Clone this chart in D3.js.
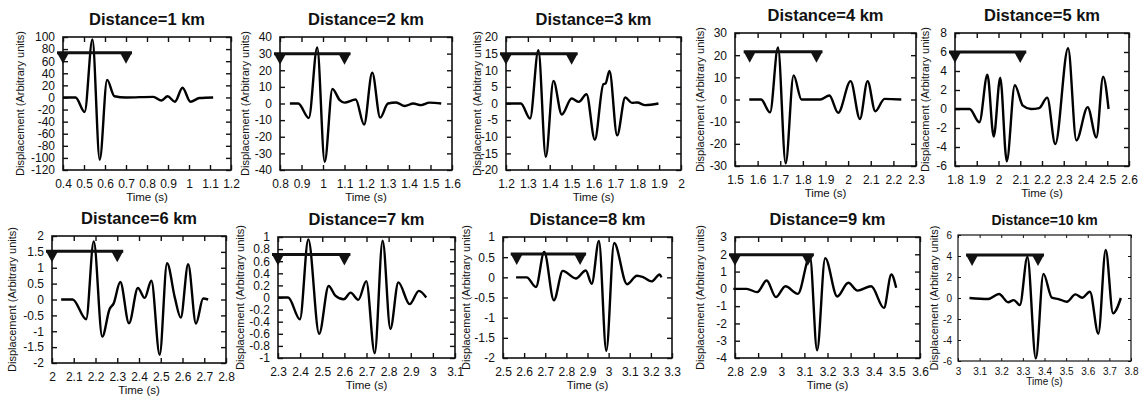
<!DOCTYPE html>
<meta charset="utf-8">
<script src="https://d3js.org/d3.v7.min.js"></script>
<style>
body { margin: 0; background: #fff; }
svg text { font-family: "Liberation Sans", Arial, sans-serif; fill: #111; }
</style>
<body>
<div id="canvas"></div>
<script>

// titulos e dominios de cada painel
var titles = ["Distance=1 km", "Distance=2 km", "Distance=3 km", "Distance=4 km", "Distance=5 km",
              "Distance=6 km", "Distance=7 km", "Distance=8 km", "Distance=9 km", "Distance=10 km"];
var xDomains = [[0.4, 1.2], [0.8, 1.6], [1.2, 2], [1.5, 2.3], [1.8, 2.6],
                [2, 2.8], [2.3, 3.1], [2.5, 3.3], [2.8, 3.6], [3, 3.8]];
var yDomains = [[-120, 100], [-40, 40], [-20, 20], [-30, 30], [-6, 8],
                [-2, 2], [-1, 1], [-2, 1], [-4, 3], [-6, 6]];

// ticks
var xTicks = [
    [0.4, 0.5, 0.6, 0.7, 0.8, 0.9, 1, 1.1, 1.2],
    [0.8, 0.9, 1, 1.1, 1.2, 1.3, 1.4, 1.5, 1.6],
    [1.2, 1.3, 1.4, 1.5, 1.6, 1.7, 1.8, 1.9, 2],
    [1.5, 1.6, 1.7, 1.8, 1.9, 2, 2.1, 2.2, 2.3],
    [1.8, 1.9, 2, 2.1, 2.2, 2.3, 2.4, 2.5, 2.6],
    [2, 2.1, 2.2, 2.3, 2.4, 2.5, 2.6, 2.7, 2.8],
    [2.3, 2.4, 2.5, 2.6, 2.7, 2.8, 2.9, 3, 3.1],
    [2.5, 2.6, 2.7, 2.8, 2.9, 3, 3.1, 3.2, 3.3],
    [2.8, 2.9, 3, 3.1, 3.2, 3.3, 3.4, 3.5, 3.6],
    [3, 3.1, 3.2, 3.3, 3.4, 3.5, 3.6, 3.7, 3.8]
];
var yTicks = [
    [-120, -100, -80, -60, -40, -20, 0, 20, 40, 60, 80, 100],
    [-40, -30, -20, -10, 0, 10, 20, 30, 40],
    [-20, -15, -10, -5, 0, 5, 10, 15, 20],
    [-30, -20, -10, 0, 10, 20, 30],
    [-6, -4, -2, 0, 2, 4, 6, 8],
    [-2, -1.5, -1, -0.5, 0, 0.5, 1, 1.5, 2],
    [-1, -0.8, -0.6, -0.4, -0.2, 0, 0.2, 0.4, 0.6, 0.8, 1],
    [-2, -1.5, -1, -0.5, 0, 0.5, 1],
    [-4, -3, -2, -1, 0, 1, 2, 3],
    [-6, -4, -2, 0, 2, 4, 6]
];

// sismogramas (tempo, deslocamento)
var t1 = [0.4, 0.46, 0.503, 0.54, 0.575, 0.61, 0.645, 0.7, 0.83, 0.869, 0.898, 0.933, 0.969, 1.007, 1.05, 1.115];
var v1 = [0, 0, -24, 96, -103, 29, 2, 0, 1, -5, 2, -7, 16, -7, -1, 0];
var t2 = [0.846, 0.885, 0.934, 0.973, 1.008, 1.044, 1.078, 1.1, 1.152, 1.191, 1.229, 1.266, 1.302, 1.34, 1.38, 1.42, 1.456, 1.495, 1.55];
var v2 = [0, 0, -8.7, 33.7, -35, 8.7, 2, 0.5, 2.4, -12.7, 18.6, -8.5, 0, 0.6, -1.5, 0, -1, 0.5, 0];
var t3 = [1.2, 1.268, 1.31, 1.348, 1.382, 1.417, 1.455, 1.5, 1.533, 1.568, 1.606, 1.645, 1.655, 1.673, 1.708, 1.745, 1.776, 1.8, 1.836, 1.897];
var v3 = [0, 0, -4.5, 16, -16, 6.8, -3.3, 1.5, 0.5, 2.8, -10.9, 5.8, 6, 9.8, -9.6, 1.8, 0.2, 0.3, -0.5, 0];
var t4 = [1.563, 1.615, 1.655, 1.69, 1.724, 1.759, 1.794, 1.877, 1.917, 1.956, 2.011, 2.052, 2.086, 2.12, 2.161, 2.235];
var v4 = [0, 0, -5.8, 23.5, -28.8, 10.9, 0, 0, 1.8, -6, 8.3, -8.8, 8.3, -5.3, 0.3, 0];
var t5 = [1.8, 1.867, 1.912, 1.949, 1.978, 2.008, 2.038, 2.075, 2.112, 2.149, 2.187, 2.224, 2.261, 2.32, 2.358, 2.41, 2.45, 2.481, 2.506];
var v5 = [0, 0, -1.4, 3.6, -2.9, 3.3, -5.5, 2.5, 0.35, 0, 0.1, 1.2, -3.7, 6.4, -3.3, 0.2, -3.0, 3.4, 0];
var t6 = [2.042, 2.095, 2.157, 2.192, 2.231, 2.265, 2.283, 2.314, 2.354, 2.395, 2.426, 2.457, 2.495, 2.529, 2.565, 2.592, 2.626, 2.662, 2.695, 2.718];
var v6 = [0, 0, -0.62, 1.83, -1.17, -0.3, -0.13, 0.55, -0.75, 0.36, 0.05, 0.59, -1.74, 1.14, 0.05, -0.57, 1.11, -0.76, 0.03, 0];
var t7 = [2.3, 2.346, 2.399, 2.437, 2.486, 2.529, 2.559, 2.597, 2.628, 2.663, 2.699, 2.737, 2.773, 2.808, 2.844, 2.895, 2.937, 2.97];
var v7 = [0, 0, -0.36, 0.96, -0.6, 0.19, 0.03, -0.03, 0.08, -0.04, 0.27, -0.92, 0.94, -0.52, 0.25, -0.11, 0.11, 0];
var t8 = [2.562, 2.612, 2.656, 2.695, 2.741, 2.783, 2.845, 2.892, 2.92, 2.954, 2.989, 3.026, 3.087, 3.134, 3.165, 3.203, 3.242, 3.25];
var v8 = [0, 0, -0.24, 0.63, -0.57, 0.16, -0.03, 0.17, -0.16, 0.9, -1.82, 0.85, -0.17, 0.04, 0, -0.1, 0.07, 0];
var t9 = [2.793, 2.85, 2.896, 2.937, 2.977, 3.018, 3.072, 3.124, 3.155, 3.19, 3.242, 3.29, 3.33, 3.389, 3.444, 3.476, 3.497];
var v9 = [0, 0, -0.19, 0.48, -0.48, 0.15, -0.29, 1.88, -3.55, 1.78, -0.44, 0.35, -0.1, 0.15, -1.1, 0.83, 0.06];
var t10 = [3.053, 3.139, 3.19, 3.232, 3.258, 3.286, 3.321, 3.36, 3.395, 3.434, 3.465, 3.504, 3.543, 3.574, 3.61, 3.649, 3.683, 3.717, 3.753];
var v10 = [0, -0.1, 0.38, -0.4, -0.2, -0.67, 3.9, -5.75, 2.3, 0.03, -0.1, -0.35, 0.35, 0.03, 0.6, -3.4, 4.57, -1.46, 0];

var times = [t1, t2, t3, t4, t5, t6, t7, t8, t9, t10];
var values = [v1, v2, v3, v4, v5, v6, v7, v8, v9, v10];

// janela marcada (triangulos) e nivel da barra
var markStart = [0.4, 0.8, 1.2, 1.565, 1.8, 2.0, 2.3, 2.565, 2.8, 3.065];
var markEnd = [0.7, 1.1, 1.5, 1.86, 2.1, 2.3, 2.6, 2.865, 3.115, 3.37];
var markLevel = [74, 30, 15, 21.5, 6, 1.52, 0.71, 0.58, 1.98, 4.1];

// posicao de cada painel na pagina (pixels)
var boxes = [
    {l: 63, t: 37, r: 231, b: 170, yl: 20},
    {l: 280, t: 37, r: 452, b: 170, yl: 245},
    {l: 506, t: 37, r: 681, b: 170, yl: 477},
    {l: 735, t: 33, r: 916, b: 166, yl: 700},
    {l: 955, t: 33, r: 1129, b: 166, yl: 925},
    {l: 52, t: 236, r: 226, b: 363, yl: 12},
    {l: 278, t: 237, r: 455, b: 358, yl: 240},
    {l: 503, t: 237, r: 672, b: 358, yl: 466},
    {l: 735, t: 237, r: 920, b: 358, yl: 700},
    {l: 958, t: 235, r: 1131, b: 361, yl: 934}
];

var W = 1141, H = 400;
var svg = d3.select("#canvas").append("svg")
    .attr("width", W).attr("height", H);

var fmt = function(d) { return String(+d.toFixed(2)); };

boxes.forEach(function(bx, i) {
    var small = (i === 9); // ultimo painel tem estilo diferente (matlab)
    var x = d3.scaleLinear().domain(xDomains[i]).range([bx.l, bx.r]);
    var y = d3.scaleLinear().domain(yDomains[i]).range([bx.b, bx.t]);
    var g = svg.append("g");
    var tick = small ? 3 : 5;
    var tickFont = small ? 10 : 12;

    // titulo
    g.append("text")
        .attr("x", (bx.l + bx.r) / 2)
        .attr("y", small ? bx.t - 10 : bx.t - 12)
        .attr("text-anchor", "middle")
        .style("font-weight", "bold")
        .style("font-size", small ? "14px" : "16.5px")
        .text(titles[i]);

    // ticks para dentro nos quatro lados
    var axB = d3.axisBottom(x).tickValues(xTicks[i]).tickSizeInner(-tick).tickSizeOuter(0).tickFormat(fmt).tickPadding(tick + 4);
    var axT = d3.axisTop(x).tickValues(xTicks[i]).tickSizeInner(-tick).tickSizeOuter(0).tickFormat("");
    var axL = d3.axisLeft(y).tickValues(yTicks[i]).tickSizeInner(-tick).tickSizeOuter(0).tickFormat(fmt).tickPadding(tick + 3);
    var axR = d3.axisRight(y).tickValues(yTicks[i]).tickSizeInner(-tick).tickSizeOuter(0).tickFormat("");

    [[axB, "0," + bx.b], [axT, "0," + bx.t], [axL, bx.l + ",0"], [axR, bx.r + ",0"]].forEach(function(a) {
        var ga = g.append("g")
            .attr("transform", "translate(" + a[1] + ")")
            .call(a[0]);
        ga.select(".domain").remove();
        ga.selectAll("line").attr("stroke", "#111").attr("stroke-width", small ? 1 : 1.4);
        ga.selectAll("text").style("font-size", tickFont + "px").attr("fill", "#111");
    });

    // moldura
    g.append("rect")
        .attr("x", bx.l).attr("y", bx.t)
        .attr("width", bx.r - bx.l).attr("height", bx.b - bx.t)
        .attr("fill", "none")
        .attr("stroke", "#111")
        .attr("stroke-width", small ? 1.2 : 1.6);

    // rotulos dos eixos
    g.append("text")
        .attr("x", (bx.l + bx.r) / 2)
        .attr("y", bx.b + (small ? 24 : 31))
        .attr("text-anchor", "middle")
        .style("font-size", small ? "10px" : "11.5px")
        .text("Time (s)");
    g.append("text")
        .attr("transform", "translate(" + (bx.yl + 4) + "," + ((bx.t + bx.b) / 2) + ") rotate(-90)")
        .attr("text-anchor", "middle")
        .style("font-size", "11px")
        .text("Displacement (Arbitrary units)");

    // sismograma
    var pts = times[i].map(function(t, k) { return [t, values[i][k]]; });
    var line = d3.line()
        .x(function(d) { return x(d[0]); })
        .y(function(d) { return y(d[1]); })
        .curve(d3.curveMonotoneX);
    g.append("path")
        .datum(pts)
        .attr("d", line)
        .attr("fill", "none")
        .attr("stroke", "#000")
        .attr("stroke-width", 2.4)
        .attr("stroke-linejoin", "round");

    // barra com triangulos
    var yl = y(markLevel[i]);
    var x0 = x(markStart[i]), x1 = x(markEnd[i]);
    g.append("line")
        .attr("x1", x0 - 6).attr("x2", x1 + 6)
        .attr("y1", yl).attr("y2", yl)
        .attr("stroke", "#111")
        .attr("stroke-width", 3);
    [x0, x1].forEach(function(cx) {
        g.append("path")
            .attr("d", "M" + (cx - 6) + "," + yl + "L" + (cx + 6) + "," + yl + "L" + cx + "," + (yl + 11) + "Z")
            .attr("fill", "#111");
    });
});

</script>
</body>
